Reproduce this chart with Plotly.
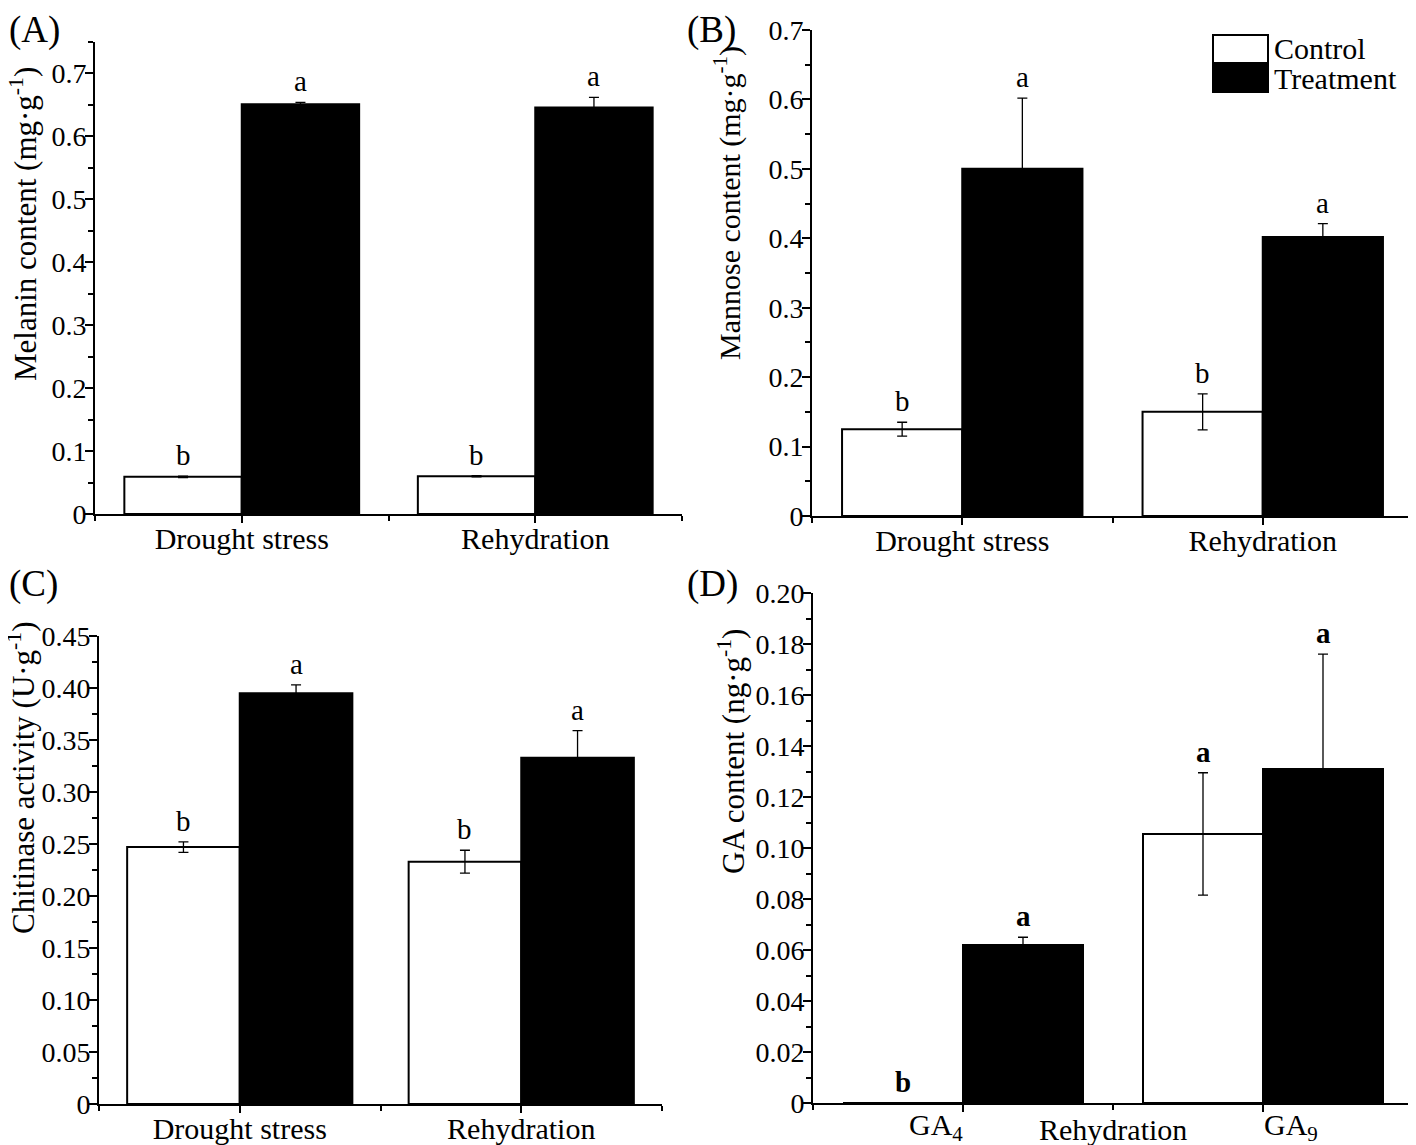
import plotly.graph_objects as go

# ---------------- data ----------------
categories = ["Drought stress", "Rehydration"]
series_names = ["Control", "Treatment"]

melanin_control = [0.059, 0.060]
melanin_control_err = [0.001, 0.001]
melanin_treat = [0.651, 0.646]
melanin_treat_err = [0.003, 0.016]
melanin_letters_control = ["b", "b"]
melanin_letters_treat = ["a", "a"]

mannose_control = [0.125, 0.150]
mannose_control_err = [0.010, 0.026]
mannose_treat = [0.500, 0.402]
mannose_treat_err = [0.102, 0.019]
mannose_letters_control = ["b", "b"]
mannose_letters_treat = ["a", "a"]

chitinase_control = [0.247, 0.233]
chitinase_control_err = [0.005, 0.011]
chitinase_treat = [0.395, 0.333]
chitinase_treat_err = [0.008, 0.026]
chitinase_letters_control = ["b", "b"]
chitinase_letters_treat = ["a", "a"]

ga_categories = ["GA<sub>4</sub>", "GA<sub>9</sub>"]
ga_group_label = "Rehydration"
ga_control = [0.0, 0.1055]
ga_control_err = [0.0, 0.024]
ga_treat = [0.062, 0.131]
ga_treat_err = [0.003, 0.045]
ga_letters_control = ["<b>b</b>", "<b>a</b>"]
ga_letters_treat = ["<b>a</b>", "<b>a</b>"]

ticks_A = [0, 0.1, 0.2, 0.3, 0.4, 0.5, 0.6, 0.7]
ticklabels_A = ["0", "0.1", "0.2", "0.3", "0.4", "0.5", "0.6", "0.7"]
ticks_B = [0, 0.1, 0.2, 0.3, 0.4, 0.5, 0.6, 0.7]
ticklabels_B = ["0", "0.1", "0.2", "0.3", "0.4", "0.5", "0.6", "0.7"]
ticks_C = [0, 0.05, 0.10, 0.15, 0.20, 0.25, 0.30, 0.35, 0.40, 0.45]
ticklabels_C = ["0", "0.05", "0.10", "0.15", "0.20", "0.25", "0.30", "0.35", "0.40", "0.45"]
ticks_D = [0, 0.02, 0.04, 0.06, 0.08, 0.10, 0.12, 0.14, 0.16, 0.18, 0.20]
ticklabels_D = ["0", "0.02", "0.04", "0.06", "0.08", "0.10", "0.12", "0.14", "0.16", "0.18", "0.20"]

panel_labels = ["(A)", "(B)", "(C)", "(D)"]
y_titles = [
    "Melanin content (mg·g<sup>-1</sup>)",
    "Mannose content (mg·g<sup>-1</sup>)",
    "Chitinase activity (U·g<sup>-1</sup>)",
    "GA content (ng·g<sup>-1</sup>)",
]

# ---------------- figure geometry (page has an 8px body margin) ----------------
OFF = 8
W, H = 1416 - OFF, 1145 - OFF


def px(x):
    return (x - OFF) / W


def py(y):
    return 1 - (y - OFF) / H


FONT = "Liberation Serif, Times New Roman, serif"
YTICK_SIZE = 28
XTICK_SIZE = 30
LETTER_SIZE = 29

fig = go.Figure()

panels = [
    dict(ax="", ctrl=melanin_control, ce=melanin_control_err, trt=melanin_treat, te=melanin_treat_err,
         lc=melanin_letters_control, lt=melanin_letters_treat, cats=categories),
    dict(ax="2", ctrl=mannose_control, ce=mannose_control_err, trt=mannose_treat, te=mannose_treat_err,
         lc=mannose_letters_control, lt=mannose_letters_treat, cats=categories),
    dict(ax="3", ctrl=chitinase_control, ce=chitinase_control_err, trt=chitinase_treat, te=chitinase_treat_err,
         lc=chitinase_letters_control, lt=chitinase_letters_treat, cats=categories),
    dict(ax="4", ctrl=ga_control, ce=ga_control_err, trt=ga_treat, te=ga_treat_err,
         lc=ga_letters_control, lt=ga_letters_treat, cats=ga_categories),
]

annotations = []
shapes = []
for k, p in enumerate(panels):
    xs = list(range(len(p["cats"])))
    xa, ya = "x" + p["ax"], "y" + p["ax"]
    fig.add_trace(go.Bar(
        x=xs, y=p["ctrl"], name=series_names[0], xaxis=xa, yaxis=ya,
        marker=dict(color="white", line=dict(color="black", width=2)),
        error_y=dict(type="data", array=p["ce"], color="black", thickness=1.3, width=5),
        showlegend=False,
    ))
    fig.add_trace(go.Bar(
        x=xs, y=p["trt"], name=series_names[1], xaxis=xa, yaxis=ya,
        marker=dict(color="black", line=dict(color="black", width=2)),
        error_y=dict(type="data", array=p["te"], color="black", thickness=1.3, width=5),
        showlegend=False,
    ))
    # significance letters
    for i in xs:
        for off, vals, errs, lets in ((-0.2, p["ctrl"], p["ce"], p["lc"]), (0.2, p["trt"], p["te"], p["lt"])):
            annotations.append(dict(
                x=i + off, y=vals[i] + errs[i], xref=xa, yref=ya, text=lets[i],
                showarrow=False, yanchor="bottom", yshift=3,
                font=dict(family=FONT, size=LETTER_SIZE, color="black"),
            ))

domains = {
    "": dict(x=[px(95), px(682)], y=[py(514), py(42)], rng=[0, 0.75], tv=ticks_A, tt=ticklabels_A, minor=0.05),
    "2": dict(x=[px(812), px(1413)], y=[py(516), py(30)], rng=[0, 0.7], tv=ticks_B, tt=ticklabels_B, minor=0.05),
    "3": dict(x=[px(99), px(662)], y=[py(1104), py(636)], rng=[0, 0.45], tv=ticks_C, tt=ticklabels_C, minor=0.025),
    "4": dict(x=[px(813), px(1413)], y=[py(1103), py(593)], rng=[0, 0.20], tv=ticks_D, tt=ticklabels_D, minor=0.01),
}

layout = dict(
    width=W, height=H, margin=dict(l=0, r=0, t=0, b=0, autoexpand=False),
    paper_bgcolor="white", plot_bgcolor="white",
    barmode="group", bargap=0.2, bargroupgap=0,
    font=dict(family=FONT, size=YTICK_SIZE, color="black"),
    showlegend=False,
)

for k, (ax, d) in enumerate(domains.items()):
    ncat = len(panels[k]["cats"])
    show_labels = ax != "4"
    xa = dict(
        domain=d["x"], anchor="y" + ax, range=[-0.5, ncat - 0.5], automargin=False,
        tickmode="array", tickvals=list(range(ncat)),
        showticklabels=show_labels, ticklabelstandoff=-10,
        ticks="outside", ticklen=7, tickwidth=2, tickcolor="black",
        minor=dict(tickmode="array", tickvals=[i - 0.5 for i in range(ncat + 1)],
                   ticks="outside", ticklen=5, tickwidth=2, tickcolor="black"),
        showline=True, linewidth=2, linecolor="black", showgrid=False, zeroline=False,
        tickfont=dict(family=FONT, size=XTICK_SIZE, color="black"),
    )
    if show_labels:
        xa["ticktext"] = panels[k]["cats"]
    layout["xaxis" + ax] = xa
    layout["yaxis" + ax] = dict(
        domain=d["y"], anchor="x" + ax, range=d["rng"], automargin=False,
        tickmode="array", tickvals=d["tv"], ticktext=d["tt"], ticklabelstandoff=-7,
        ticks="outside", ticklen=8, tickwidth=2, tickcolor="black",
        minor=dict(dtick=d["minor"], tick0=0, ticks="outside", ticklen=5, tickwidth=2, tickcolor="black"),
        showline=True, linewidth=2, linecolor="black", showgrid=False, zeroline=False,
        tickfont=dict(family=FONT, size=YTICK_SIZE, color="black"),
    )

# y-axis titles (placed as rotated text, matching the reference's off-centre placement)
title_pos = [(23, 224, 31), (728, 203, 30), (21, 778, 31), (731, 752, 31)]
for t, (tx, ty, fs) in zip(y_titles, title_pos):
    annotations.append(dict(
        x=px(tx), y=py(ty), xref="paper", yref="paper", text=t, textangle=-90,
        showarrow=False, xanchor="center", yanchor="middle", borderpad=0,
        font=dict(family=FONT, size=fs, color="black"),
    ))

# D panel: category labels placed below the axis
for i, lab in enumerate(ga_categories):
    annotations.append(dict(
        x=i, y=0, xref="x4", yref="y4", text=lab, showarrow=False,
        yanchor="top", yshift=-3, xshift=(-27 if i == 0 else 28),
        font=dict(family=FONT, size=XTICK_SIZE, color="black"),
    ))
annotations.append(dict(
    x=(len(ga_categories) - 1) / 2, y=0, xref="x4", yref="y4", text=ga_group_label, showarrow=False,
    yanchor="top", yshift=-8, font=dict(family=FONT, size=XTICK_SIZE, color="black"),
))

# legend (drawn as boxes + labels, like the reference)
legend_boxes = [(1213, 35, 1268, 63, "white"), (1213, 65, 1268, 92, "black")]
for (x0, y0, x1, y1, col), name in zip(legend_boxes, series_names):
    shapes.append(dict(type="rect", xref="paper", yref="paper", x0=px(x0), x1=px(x1), y0=py(y1), y1=py(y0),
                       fillcolor=col, line=dict(color="black", width=2)))
    annotations.append(dict(
        x=px(1272), y=py((y0 + y1) / 2), xref="paper", yref="paper", text=name, showarrow=False,
        xanchor="left", yanchor="middle", font=dict(family=FONT, size=30, color="black"),
    ))

# panel labels
label_pos = [(8, 8), (686, 8), (8, 562), (686, 562)]
for lab, (lx, ly) in zip(panel_labels, label_pos):
    annotations.append(dict(
        x=px(lx), y=py(ly), xref="paper", yref="paper", text=lab, showarrow=False,
        xanchor="left", yanchor="top", borderpad=0,
        font=dict(family=FONT, size=37, color="black"),
    ))

layout["annotations"] = annotations
layout["shapes"] = shapes
fig.update_layout(**layout)

fig.write_html("out.html")
